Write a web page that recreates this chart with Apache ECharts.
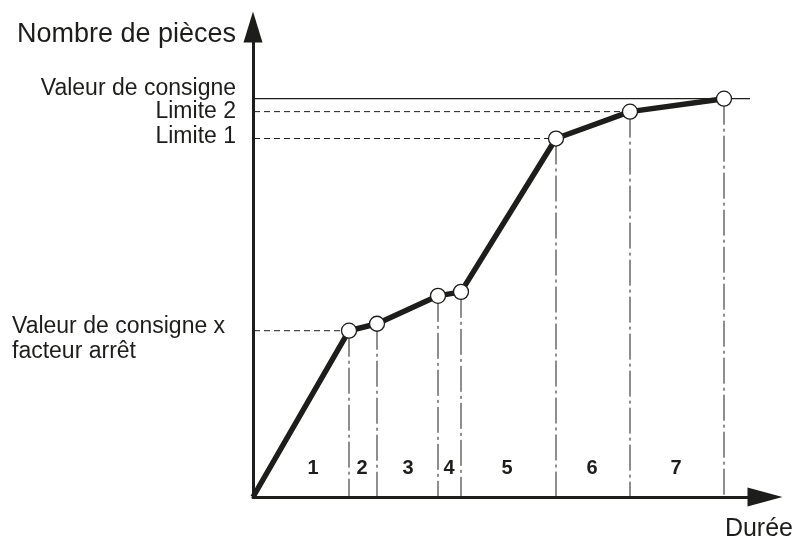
<!DOCTYPE html>
<html>
<head>
<meta charset="utf-8">
<script src="https://cdn.jsdelivr.net/npm/echarts@6/dist/echarts.min.js"></script>
<style>
  html, body { margin: 0; padding: 0; background: #fff; }
  #chart { width: 797px; height: 542px; }
</style>
</head>
<body>
<div id="chart"></div>
<script>
// points de la courbe (x = durée, y = nombre de pièces)
const curveX = [0, 96, 124, 185, 208, 303, 377, 471];
const curveY = [0, 167, 174, 202, 206, 360, 387, 400];

// niveaux de référence
const setpoint = 400;
const limit2 = 387;
const limit1 = 360;
const stopFactor = 167;
const lineStart = -9;
const setpointEnd = 497;

// phases 1..7
const phaseNames = ['1', '2', '3', '4', '5', '6', '7'];
const phaseX = [60, 109, 155, 196, 254, 339, 423];
const phaseY = 29;

const INK = '#1d1d1b';
const FONT = '"Liberation Sans", Arial, sans-serif';

const chart = echarts.init(document.getElementById('chart'), null, { renderer: 'canvas' });

// lignes pointillées horizontales (jusqu'au point correspondant)
const dashed = [
  { y: limit2, x: curveX[6] },
  { y: limit1, x: curveX[5] },
  { y: stopFactor, x: curveX[1] }
].map(d => ({
  type: 'line',
  data: [[lineStart, d.y], [d.x, d.y]],
  symbol: 'none',
  clip: false,
  silent: true,
  lineStyle: { color: INK, width: 1, type: [6, 4] },
  z: 1
}));

// verticales mixtes (trait-point) des points vers l'axe
const verticals = curveX.slice(1).map((x, i) => ({
  type: 'line',
  data: [[x, curveY[i + 1]], [x, 0]],
  symbol: 'none',
  silent: true,
  lineStyle: { color: INK, width: 1, type: [26, 4, 3, 4] },
  z: 1
}));

const textLabels = [
  { value: [lineStart, setpoint], name: 'Valeur de consigne', dy: -10 },
  { value: [lineStart, limit2], name: 'Limite 2', dy: 0 },
  { value: [lineStart, limit1], name: 'Limite 1', dy: -2 }
];

const option = {
  animation: false,
  backgroundColor: '#fff',
  textStyle: { fontFamily: FONT },
  grid: { left: 253, right: 32, top: 27, bottom: 43 },
  xAxis: {
    type: 'value',
    min: 0,
    max: 512,
    name: 'Durée',
    nameLocation: 'end',
    nameGap: 28,
    nameTextStyle: {
      color: INK, fontSize: 25, fontFamily: FONT,
      align: 'right', verticalAlign: 'top', padding: [20, 0, 0, 0]
    },
    axisLine: {
      lineStyle: { color: INK, width: 3 },
      symbol: ['none', 'triangle'],
      symbolSize: [19, 35]
    },
    axisTick: { show: false },
    axisLabel: { show: false },
    splitLine: { show: false }
  },
  yAxis: {
    type: 'value',
    min: 0,
    max: 472,
    name: 'Nombre de pièces',
    nameLocation: 'end',
    nameGap: -8,
    nameTextStyle: {
      color: INK, fontSize: 27, fontFamily: FONT,
      align: 'right', verticalAlign: 'middle', padding: [0, 17, 0, 0]
    },
    axisLine: {
      lineStyle: { color: INK, width: 3 },
      symbol: ['none', 'triangle'],
      symbolSize: [19, 31]
    },
    axisTick: { show: false },
    axisLabel: { show: false },
    splitLine: { show: false }
  },
  series: [
    // valeur de consigne (trait plein)
    {
      type: 'line',
      data: [[lineStart, setpoint], [setpointEnd, setpoint]],
      symbol: 'none',
      clip: false,
      silent: true,
      lineStyle: { color: INK, width: 1.2 },
      z: 1
    },
    ...dashed,
    ...verticals,
    // courbe principale
    {
      type: 'line',
      data: curveX.map((x, i) => ({
        value: [x, curveY[i]],
        symbol: i === 0 ? 'none' : 'circle'
      })),
      symbolSize: 15,
      showSymbol: true,
      itemStyle: { color: '#fff', borderColor: INK, borderWidth: 1.3 },
      lineStyle: { color: INK, width: 5.5 },
      z: 5
    },
    // étiquettes de gauche
    {
      type: 'scatter',
      symbolSize: 0,
      silent: true,
      clip: false,
      itemStyle: { opacity: 1 },
      data: textLabels.map(d => ({
        value: d.value,
        name: d.name,
        label: { offset: [0, d.dy] }
      })),
      label: {
        show: true,
        position: 'left',
        distance: 8,
        formatter: '{b}',
        color: INK,
        fontSize: 23,
        fontFamily: FONT
      },
      z: 6
    },
    {
      type: 'scatter',
      symbolSize: 0,
      silent: true,
      clip: false,
      itemStyle: { opacity: 1 },
      data: [{ value: [lineStart, stopFactor], name: 'Valeur de consigne x\nfacteur arrêt' }],
      label: {
        show: true,
        position: [-232, -17],
        align: 'left',
        verticalAlign: 'top',
        lineHeight: 25,
        formatter: '{b}',
        color: INK,
        fontSize: 23,
        fontFamily: FONT
      },
      z: 6
    },
    // numéros des phases
    {
      type: 'scatter',
      symbolSize: 0,
      silent: true,
      itemStyle: { opacity: 1 },
      data: phaseX.map((x, i) => ({ value: [x, phaseY], name: phaseNames[i] })),
      label: {
        show: true,
        position: 'inside',
        formatter: '{b}',
        color: INK,
        fontSize: 20,
        fontWeight: 'bold',
        fontFamily: FONT
      },
      z: 6
    }
  ]
};

chart.setOption(option);
</script>
</body>
</html>
